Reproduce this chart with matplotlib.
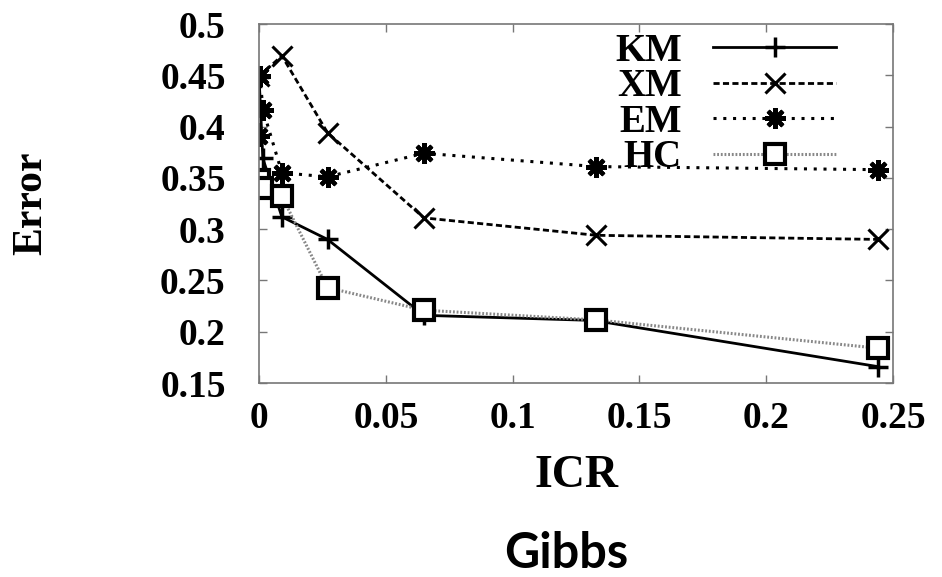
import matplotlib
matplotlib.use("Agg")
import matplotlib.pyplot as plt

# data
km_x = [0.0, 0.0015, 0.009, 0.027, 0.065, 0.132, 0.244]
km_y = [0.448, 0.369, 0.312, 0.290, 0.216, 0.211, 0.166]
xm_x = [0.0, 0.009, 0.027, 0.065, 0.133, 0.244]
xm_y = [0.449, 0.469, 0.394, 0.311, 0.294, 0.290]
em_x = [0.0, 0.0003, 0.0016, 0.009, 0.027, 0.065, 0.133, 0.244]
em_y = [0.391, 0.449, 0.416, 0.355, 0.351, 0.374, 0.361, 0.358]
hc_x = [0.0, 0.0012, 0.009, 0.027, 0.065, 0.133, 0.244]
hc_y = [0.348, 0.340, 0.332, 0.243, 0.221, 0.2115, 0.184]

xticks = [0, 0.05, 0.1, 0.15, 0.2, 0.25]
xtick_labels = ['0', '0.05', '0.1', '0.15', '0.2', '0.25']
yticks = [0.15, 0.2, 0.25, 0.3, 0.35, 0.4, 0.45, 0.5]
ytick_labels = ['0.15', '0.2', '0.25', '0.3', '0.35', '0.4', '0.45', '0.5']

serif = 'Liberation Serif'

fig = plt.figure(figsize=(9.42, 5.77), dpi=100)
ax = fig.add_axes([0.275, 0.3362, 0.673, 0.6222])

ax.plot(km_x, km_y, color='black', lw=2, ls='-', marker='+', ms=14, mew=2.5, label='KM')
ax.plot(xm_x, xm_y, color='black', lw=2, ls=(0, (2.2, 1.2)), marker='x', ms=14, mew=2.2, label='XM')
ax.plot(em_x, em_y, color='black', lw=2.2, ls=(0, (1, 2.2)), marker=(8, 2, 0), ms=15, mew=3, label='EM')
ax.plot(hc_x, hc_y, color='#888888', lw=2.2, ls=(0, (0.6, 0.6)), marker='s', ms=14,
        mfc='white', mec='black', mew=3, label='HC')

ax.set_xlim(0, 0.25)
ax.set_ylim(0.15, 0.5)
ax.set_xticks(xticks)
ax.set_xticklabels(xtick_labels)
ax.set_yticks(yticks)
ax.set_yticklabels(ytick_labels)
ax.tick_params(direction='in', length=6, width=1, color='#777777',
               top=True, right=True, labelsize=27)
ax.tick_params(axis='x', pad=13)
ax.tick_params(axis='y', pad=24)
for lab in ax.get_xticklabels() + ax.get_yticklabels():
    lab.set_fontfamily(serif)
    lab.set_fontweight('bold')
for sp in ax.spines.values():
    sp.set_color('#777777')
    sp.set_linewidth(1.2)

ax.set_xlabel('ICR', fontsize=33, fontfamily=serif, fontweight='bold')
ax.set_ylabel('Error', fontsize=30, fontfamily=serif, fontweight='bold')
ax.xaxis.set_label_coords(0.5, -0.2)
ax.yaxis.set_label_coords(-0.329, 0.5)

leg = ax.legend(loc='upper right', bbox_to_anchor=(836 / 942, 544 / 577),
                bbox_transform=fig.transFigure, frameon=False, borderpad=0,
                borderaxespad=0, markerfirst=False, handlelength=3.16,
                handletextpad=0.8, labelspacing=-0.04,
                prop={'family': serif, 'weight': 'bold', 'size': 28})

fig.text(0.601, 0.002, 'Gibbs', fontsize=35, fontfamily='Lato', fontweight='bold',
         ha='center', va='bottom')

fig.savefig('out.png', dpi=100)
